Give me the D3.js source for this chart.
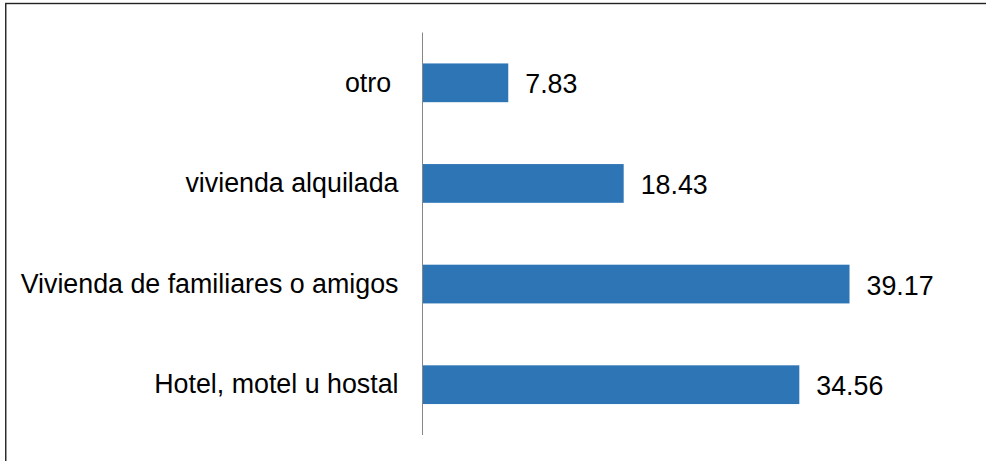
<!DOCTYPE html>
<html>
<head>
<meta charset="utf-8">
<script src="https://cdn.jsdelivr.net/npm/d3@7"></script>
<style>
  html, body { margin: 0; padding: 0; background: #fff; }
  svg { display: block; }
  text { font-family: "Liberation Sans", Arial, sans-serif; fill: #000; white-space: pre; }
</style>
</head>
<body>
<svg id="chart" width="986" height="461"></svg>
<script>
// Share of lodging type (percent)
const categories = ["otro ", "vivienda alquilada", "Vivienda de familiares o amigos", "Hotel, motel u hostal"];
const values = [7.83, 18.43, 39.17, 34.56];
const valueLabels = ["7.83", "18.43", "39.17", "34.56"];

const svg = d3.select("#chart");

// Outer frame (right and bottom edges fall outside the canvas)
svg.append("rect")
  .attr("x", 5.75).attr("y", 3.5)
  .attr("width", 1000).attr("height", 500)
  .attr("fill", "none")
  .attr("stroke", "#222")
  .attr("stroke-width", 1.4);

const x = d3.scaleLinear().domain([0, 45]).range([423, 913]);
const y = d3.scaleBand()
  .domain(categories)
  .range([32.5, 435])
  .paddingInner(0.615)
  .paddingOuter(0.3075);

const fontSize = 26.8;

// Bars
svg.append("g").selectAll("rect")
  .data(categories)
  .join("rect")
  .attr("x", x(0))
  .attr("y", d => y(d))
  .attr("width", (d, i) => x(values[i]) - x(0))
  .attr("height", y.bandwidth())
  .attr("fill", "#2E75B6");

// Category axis line
svg.append("line")
  .attr("x1", x(0) - 0.5).attr("x2", x(0) - 0.5)
  .attr("y1", 32.5).attr("y2", 435)
  .attr("stroke", "#868686")
  .attr("stroke-width", 1);

// Category labels
svg.append("g").selectAll("text")
  .data(categories)
  .join("text")
  .attr("x", x(0) - 24.5)
  .attr("y", d => y(d) + y.bandwidth() / 2 + 8.8)
  .attr("text-anchor", "end")
  .attr("font-size", fontSize)
  .text(d => d);

// Value labels
svg.append("g").selectAll("text")
  .data(categories)
  .join("text")
  .attr("x", (d, i) => x(values[i]) + 17)
  .attr("y", d => y(d) + y.bandwidth() / 2 + 10.5)
  .attr("font-size", fontSize)
  .text((d, i) => valueLabels[i]);
</script>
</body>
</html>
